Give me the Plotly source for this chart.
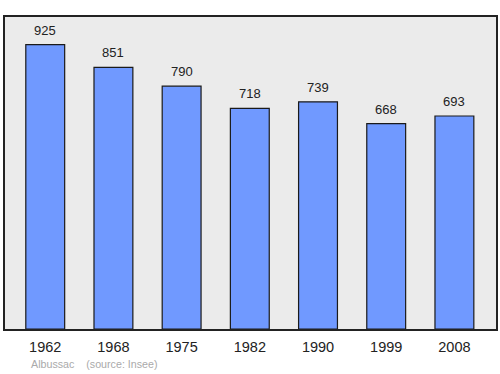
import plotly.graph_objects as go

years = ["1962", "1968", "1975", "1982", "1990", "1999", "2008"]
population = [925, 851, 790, 718, 739, 668, 693]
footer = "Albussac    (source: Insee)"

fig = go.Figure()
fig.add_trace(go.Bar(
    x=years, y=population, width=0.57,
    marker=dict(color="#7099ff", line=dict(color="#1a1a1a", width=1.2)),
    hoverinfo="skip",
))
for i, v in enumerate(population):
    fig.add_annotation(x=i, y=v, text=str(v), showarrow=False, yanchor="bottom",
                       yshift=5, font=dict(family="Liberation Sans, Arial", size=13, color="#222"))
fig.add_annotation(xref="paper", yref="paper", x=0.049, y=-0.086, xanchor="left", yanchor="top",
                   text=footer.replace(" ", "&nbsp;"), showarrow=False,
                   font=dict(family="Liberation Sans, Arial", size=10.7, color="#aaaaaa"))

fig.update_layout(
    width=500, height=374,
    margin=dict(l=5, r=2, t=17, b=45, pad=0),
    paper_bgcolor="white", plot_bgcolor="#ebebeb",
    showlegend=False,
    xaxis=dict(type="category", range=[-0.59, 6.61], showline=True, mirror=True,
               linecolor="#222", linewidth=1.5, ticks="outside", ticklen=4,
               tickcolor="rgba(0,0,0,0)", showgrid=False,
               tickfont=dict(family="Liberation Sans, Arial", size=14.5, color="#222")),
    yaxis=dict(range=[0, 1015], showline=True, mirror=True, linecolor="#222", linewidth=1.5,
               showticklabels=False, ticks="", showgrid=False, zeroline=False),
)
fig.write_html("out.html")
